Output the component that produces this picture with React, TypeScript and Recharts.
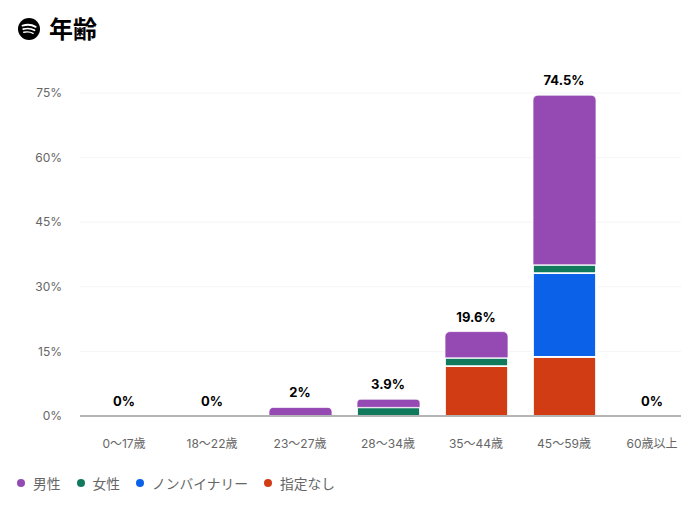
import React from "react";
import { ComposedChart, Bar, Line, XAxis, YAxis, CartesianGrid, LabelList } from "recharts";

const categories = ["0〜17歳", "18〜22歳", "23〜27歳", "28〜34歳", "35〜44歳", "45〜59歳", "60歳以上"];
const male = [0, 0, 2, 1.9, 6.1, 39.4, 0];
const female = [0, 0, 0, 2, 1.9, 1.9, 0];
const nonBinary = [0, 0, 0, 0, 0, 19.5, 0];
const unspecified = [0, 0, 0, 0, 11.6, 13.7, 0];
const totals = [0, 0, 2, 3.9, 19.6, 74.5, 0];
const yTicks = [0, 15, 30, 45, 60, 75];
const legendItems = [
  { name: "男性", color: "#9549b3" },
  { name: "女性", color: "#117a5d" },
  { name: "ノンバイナリー", color: "#0b62e8" },
  { name: "指定なし", color: "#d13c15" },
];

const rows = categories.map((category, i) => ({
  category,
  male: male[i],
  female: female[i],
  nonBinary: nonBinary[i],
  unspecified: unspecified[i],
  total: totals[i],
}));

const FONT = 'Inter, "Noto Sans CJK JP", sans-serif';

export default function App() {
  return (
    <div style={{ position: "absolute", left: 0, top: 0, width: 681, height: 510, overflow: "hidden", background: "#fff", fontFamily: FONT }}>
      <svg width="22" height="22" viewBox="0 0 22 22" style={{ position: "absolute", left: 18, top: 18 }}>
        <circle cx="11" cy="11" r="11" fill="#000" />
        <path d="M4.6 7.6C9 6.3 14 6.7 17.6 8.8" stroke="#fff" strokeWidth="2" strokeLinecap="round" fill="none" />
        <path d="M5.2 11.1C9 10.1 13.4 10.5 16.5 12.3" stroke="#fff" strokeWidth="1.7" strokeLinecap="round" fill="none" />
        <path d="M5.8 14.3C8.9 13.6 12.5 13.9 15.1 15.4" stroke="#fff" strokeWidth="1.4" strokeLinecap="round" fill="none" />
      </svg>
      <div style={{ position: "absolute", left: 49, top: 13, fontSize: 24, lineHeight: "30px", fontWeight: 700, color: "#000", fontFamily: '"Noto Sans CJK JP", sans-serif' }}>年齢</div>
      <ComposedChart
        width={696}
        height={510}
        data={rows}
        margin={{ top: 93, right: 0, bottom: 40, left: 0 }}
        barCategoryGap={0}
        style={{ fontFamily: FONT }}
      >
        <CartesianGrid horizontal vertical={false} stroke="#f5f5f5" />
        <XAxis
          dataKey="category"
          height={54}
          interval={0}
          axisLine={{ stroke: "#b5b5b5", strokeWidth: 2 }}
          tickLine={false}
          tickSize={0}
          tickMargin={23}
          tick={{ fontSize: 12, fill: "#666" }}
        />
        <YAxis
          width={80}
          domain={[0, 75]}
          ticks={yTicks}
          axisLine={false}
          tickLine={false}
          tickSize={0}
          tickMargin={18}
          tick={{ fontSize: 12, fill: "#666" }}
          tickFormatter={(v: number) => `${v}%`}
        />
        <Bar dataKey="unspecified" stackId="a" fill="#d13c15" stroke="#fff" strokeWidth={1.75} barSize={63} isAnimationActive={false} />
        <Bar dataKey="nonBinary" stackId="a" fill="#0b62e8" stroke="#fff" strokeWidth={1.75} barSize={63} isAnimationActive={false} />
        <Bar dataKey="female" stackId="a" fill="#117a5d" stroke="#fff" strokeWidth={1.75} barSize={63} isAnimationActive={false} />
        <Bar dataKey="male" stackId="a" fill="#9549b3" stroke="#fff" strokeWidth={0.75} barSize={63} radius={[5, 5, 0, 0]} isAnimationActive={false} />
        <Line dataKey="total" stroke="none" dot={false} activeDot={false} legendType="none" isAnimationActive={false}>
          <LabelList
            dataKey="total"
            position="top"
            offset={10}
            formatter={(v: number) => `${v}%`}
            style={{ fontSize: 13, fontWeight: 700, fill: "#000", fontFamily: FONT }}
          />
        </Line>
      </ComposedChart>
      <div style={{ position: "absolute", left: 17, top: 473, height: 20, display: "flex", alignItems: "center", fontSize: 13.75, color: "#666" }}>
        {legendItems.map((item) => (
          <div key={item.name} style={{ display: "flex", alignItems: "center", marginRight: 16 }}>
            <span style={{ width: 8, height: 8, borderRadius: 4, background: item.color, marginRight: 8 }} />
            <span>{item.name}</span>
          </div>
        ))}
      </div>
    </div>
  );
}
